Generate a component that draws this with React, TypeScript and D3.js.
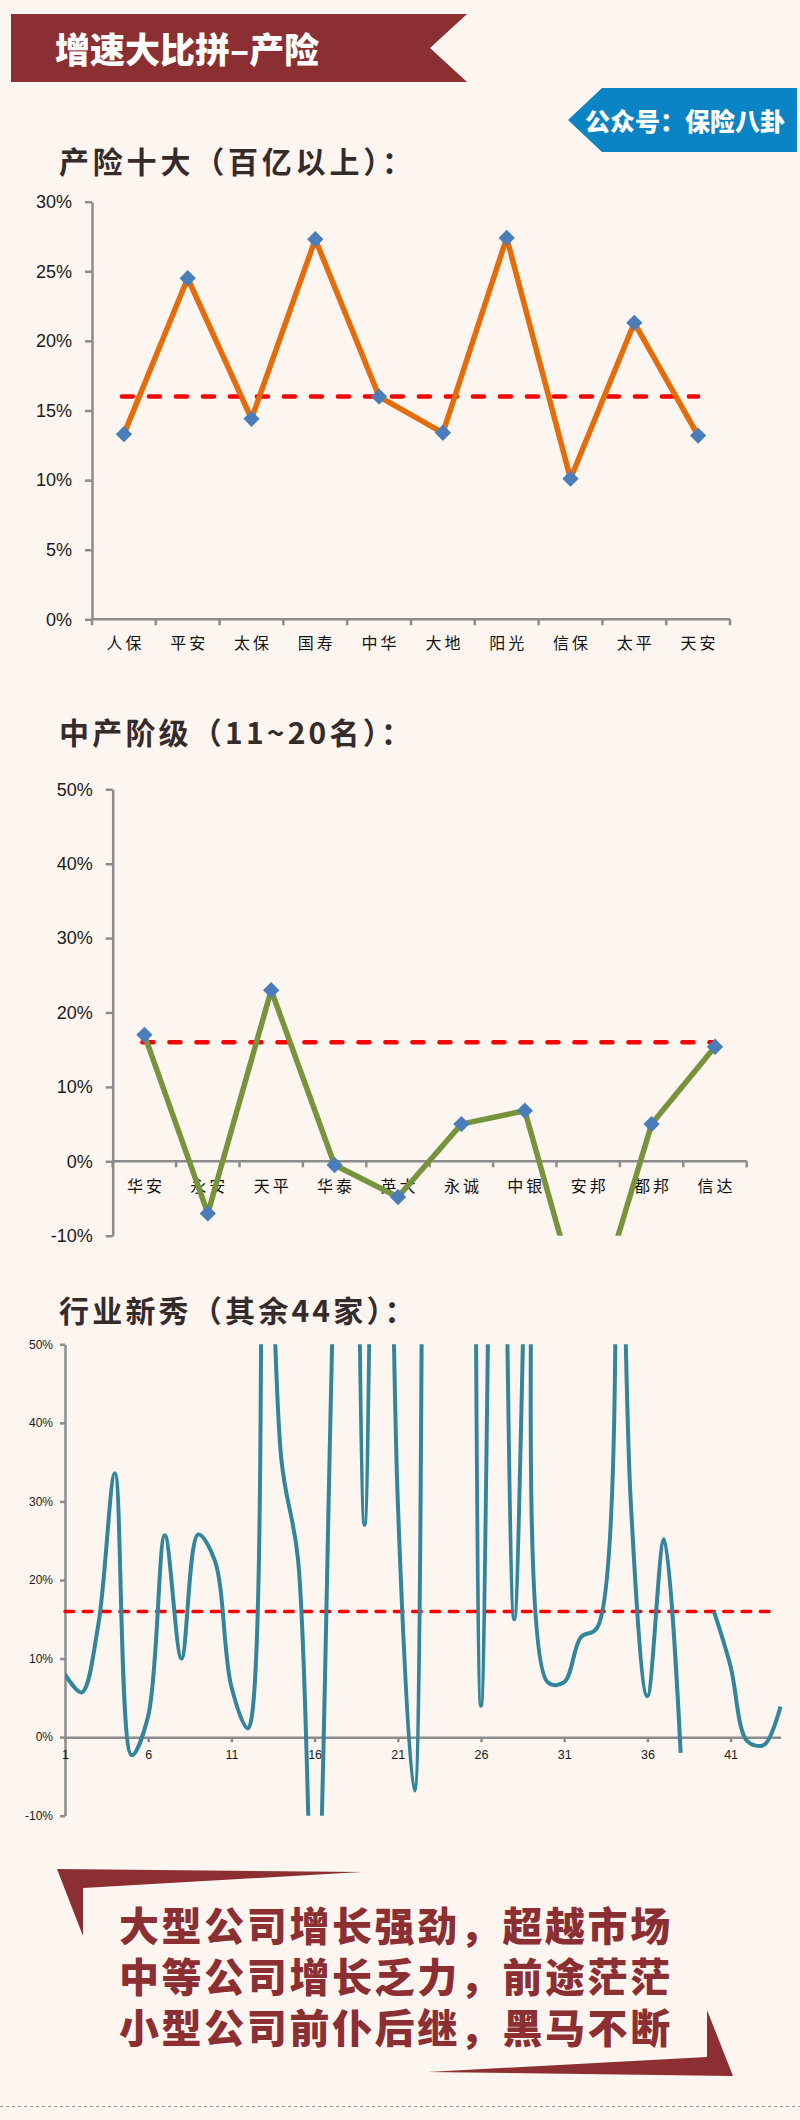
"use client";
import React, { useEffect, useRef } from "react";
import * as d3 from "d3";

const BG = "#fdf5ef";
const MAROON = "#8b2f32";
const AXIS = "#8c8c8c";
const TICK_FONT = "'Liberation Sans', Arial, sans-serif";
const CJK = "'Noto Sans CJK SC', sans-serif";

// 产险十大（百亿以上）
const bigNames = ["人保", "平安", "太保", "国寿", "中华", "大地", "阳光", "信保", "太平", "天安"];
const bigGrowth = [13.3, 24.5, 14.4, 27.3, 16.0, 13.4, 27.4, 10.1, 21.3, 13.2];
const bigTicks = [0, 5, 10, 15, 20, 25, 30];

// 中产阶级（11~20名）
const midNames = ["华安", "永安", "天平", "华泰", "英大", "永诚", "中银", "安邦", "都邦", "信达"];
const midGrowth = [17.0, -7.0, 23.0, -0.5, -4.8, 5.0, 6.8, -23.4, 5.0, 15.4];
const midTicks = [-10, 0, 10, 20, 30, 40, 50];

// 行业新秀（其余44家），第39家无数据
const smallGrowth: Array<number | null> = [
  8, 5.7, 14.3, 33.6, -2.3, 2.7, 25.7, 10, 25.8, 22.5,
  6.4, 1.1, 90, 35.4, 22.7, -30, 45, 150, 27, 150,
  30, -6.8, 200, 150, 200, 4, 120, 15, 80, 7,
  7, 12.7, 14, 120, 30, 5.2, 25.2, -2, null, 16,
  9, -0.5, -1, 3.9,
];
const smallTicks = [-10, 0, 10, 20, 30, 40, 50];
const smallLabels = [1, 6, 11, 16, 21, 26, 31, 36, 41];

const marketGrowth = 16;

const slogan = [
  "大型公司增长强劲，超越市场",
  "中等公司增长乏力，前途茫茫",
  "小型公司前仆后继，黑马不断",
];

type Sel = d3.Selection<SVGSVGElement, unknown, null, undefined>;

function styleAxis(a: any, fontSize: number) {
  a.select(".domain").attr("stroke", AXIS).attr("stroke-width", 2.5);
  a.selectAll(".tick line").attr("stroke", AXIS).attr("stroke-width", 2.5);
  a.selectAll("text")
    .attr("font-family", TICK_FONT)
    .attr("font-size", fontSize)
    .attr("fill", "#1a1a1a");
}

function drawCategory(
  svg: Sel,
  o: {
    id: string;
    names: string[];
    values: number[];
    domain: [number, number];
    ticks: number[];
    left: number;
    right: number;
    top: number;
    bottom: number;
    color: string;
    labelY: number;
  }
) {
  const x = d3.scaleBand().domain(o.names).range([o.left, o.right]);
  const y = d3.scaleLinear().domain(o.domain).range([o.bottom, o.top]);
  const cx = (n: string) => (x(n) as number) + x.bandwidth() / 2;
  const g = svg.append("g");

  g.append("clipPath")
    .attr("id", o.id)
    .append("rect")
    .attr("x", o.left - 20)
    .attr("y", o.top - 20)
    .attr("width", o.right - o.left + 40)
    .attr("height", o.bottom - o.top + 20);

  g.append("g")
    .attr("transform", `translate(${o.left},0)`)
    .call(
      d3
        .axisLeft(y)
        .tickValues(o.ticks)
        .tickFormat((d) => `${d}%`)
        .tickSize(7)
        .tickSizeOuter(0)
        .tickPadding(13)
    )
    .call((a) => styleAxis(a, 18));

  // category axis at 0%
  const y0 = y(0);
  g.append("line")
    .attr("x1", o.left)
    .attr("x2", o.right)
    .attr("y1", y0)
    .attr("y2", y0)
    .attr("stroke", AXIS)
    .attr("stroke-width", 2.5);
  g.selectAll(".bound")
    .data(d3.range(o.names.length + 1))
    .join("line")
    .attr("x1", (i) => o.left + i * x.step())
    .attr("x2", (i) => o.left + i * x.step())
    .attr("y1", y0)
    .attr("y2", y0 + 6)
    .attr("stroke", AXIS)
    .attr("stroke-width", 2.5);

  g.selectAll(".cat")
    .data(o.names)
    .join("text")
    .attr("x", (d) => cx(d) + 1.5)
    .attr("y", o.labelY)
    .attr("dy", "0.35em")
    .attr("text-anchor", "middle")
    .attr("font-family", CJK)
    .attr("font-size", 16)
    .attr("letter-spacing", 3)
    .attr("fill", "#111")
    .text((d) => d);

  // market average
  g.append("line")
    .attr("x1", cx(o.names[0]) - 2)
    .attr("x2", cx(o.names[o.names.length - 1]))
    .attr("y1", y(marketGrowth))
    .attr("y2", y(marketGrowth))
    .attr("stroke", "#ff0000")
    .attr("stroke-width", 4.5)
    .attr("stroke-linecap", "round")
    .attr("stroke-dasharray", "11 16");

  const line = d3
    .line<number>()
    .x((_, i) => cx(o.names[i]))
    .y((d) => y(d));

  const plot = g.append("g").attr("clip-path", `url(#${o.id})`);
  plot
    .append("path")
    .attr("d", line(o.values))
    .attr("fill", "none")
    .attr("stroke", o.color)
    .attr("stroke-width", 5.5)
    .attr("stroke-linejoin", "round");

  plot
    .selectAll(".mk")
    .data(o.values)
    .join("path")
    .attr("transform", (d, i) => `translate(${cx(o.names[i])},${y(d)})`)
    .attr("d", d3.symbol(d3.symbolDiamond2, 170)())
    .attr("fill", "#4a7ebb");
}

function drawSmall(svg: Sel) {
  const left = 65;
  const right = 780.5;
  const top = 1344.3;
  const bottom = 1815.7;
  const x = d3.scaleLinear().domain([1, 44]).range([left, right]);
  const y = d3.scaleLinear().domain([-10, 50]).range([bottom, top]);
  const g = svg.append("g");

  g.append("clipPath")
    .attr("id", "clip-small")
    .append("rect")
    .attr("x", left)
    .attr("y", top)
    .attr("width", right - left + 10)
    .attr("height", bottom - top);

  g.append("g")
    .attr("transform", `translate(${left},0)`)
    .call(
      d3
        .axisLeft(y)
        .tickValues(smallTicks)
        .tickFormat((d) => `${d}%`)
        .tickSize(5)
        .tickSizeOuter(0)
        .tickPadding(7)
    )
    .call((a) => styleAxis(a, 12));

  g.append("g")
    .attr("transform", `translate(0,${y(0)})`)
    .call(
      d3
        .axisBottom(x)
        .tickValues(smallLabels)
        .tickFormat((d) => `${d}`)
        .tickSize(5)
        .tickSizeOuter(0)
        .tickPadding(8)
    )
    .call((a) => styleAxis(a, 12.5));

  g.append("line")
    .attr("x1", left)
    .attr("x2", right - 4)
    .attr("y1", y(marketGrowth))
    .attr("y2", y(marketGrowth))
    .attr("stroke", "#ff0000")
    .attr("stroke-width", 3.6)
    .attr("stroke-linecap", "round")
    .attr("stroke-dasharray", "8.5 9.8");

  const line = d3
    .line<number | null>()
    .defined((d) => d != null)
    .x((_, i) => x(i + 1))
    .y((d) => y(d as number))
    .curve(d3.curveCatmullRom.alpha(0.5));

  g.append("g")
    .attr("clip-path", "url(#clip-small)")
    .append("path")
    .attr("d", line(smallGrowth))
    .attr("fill", "none")
    .attr("stroke", "#31859c")
    .attr("stroke-width", 4);
}

export default function App() {
  const ref = useRef<SVGSVGElement | null>(null);

  useEffect(() => {
    if (!ref.current) return;
    document.body.style.margin = "0";
    document.body.style.background = BG;
    const svg = d3.select(ref.current);
    svg.selectAll("*").remove();

    svg.append("rect").attr("width", 800).attr("height", 2120).attr("fill", BG);

    // header ribbon
    svg
      .append("path")
      .attr("d", "M11,14 L467,14 L430,48 L467,82 L11,82 Z")
      .attr("fill", MAROON);
    svg
      .append("text")
      .attr("x", 55)
      .attr("y", 63)
      .attr("font-family", CJK)
      .attr("font-weight", 900)
      .attr("font-size", 35)
      .attr("fill", "#fff")
      .text("增速大比拼–产险");

    // account tag
    svg
      .append("path")
      .attr("d", "M568,120 L602,88 L797,88 L797,152 L602,152 Z")
      .attr("fill", "#0a84c4");
    svg
      .append("text")
      .attr("x", 585)
      .attr("y", 131)
      .attr("font-family", CJK)
      .attr("font-weight", 900)
      .attr("font-size", 25)
      .attr("fill", "#fff")
      .text("公众号：保险八卦");

    const titles: Array<[string, number, number]> = [
      ["产险十大（百亿以上）：", 173, 3.8],
      ["中产阶级（11~20名）：", 744, 3.2],
      ["行业新秀（其余44家）：", 1322, 3.2],
    ];
    svg
      .append("g")
      .selectAll("text")
      .data(titles)
      .join("text")
      .attr("x", 59)
      .attr("y", (d) => d[1])
      .attr("letter-spacing", (d) => d[2])
      .attr("font-family", CJK)
      .attr("font-weight", 700)
      .attr("font-size", 30)
      .attr("fill", "#352b2b")
      .text((d) => d[0]);

    drawCategory(svg, {
      id: "clip-big",
      names: bigNames,
      values: bigGrowth,
      domain: [0, 30],
      ticks: bigTicks,
      left: 92,
      right: 730,
      top: 201.7,
      bottom: 619.3,
      color: "#e46c0a",
      labelY: 643,
    });

    drawCategory(svg, {
      id: "clip-mid",
      names: midNames,
      values: midGrowth,
      domain: [-10, 50],
      ticks: midTicks,
      left: 112.7,
      right: 746.7,
      top: 789.3,
      bottom: 1235.7,
      color: "#77933c",
      labelY: 1186.4,
    });

    drawSmall(svg);

    // closing slogan with brackets
    svg
      .append("path")
      .attr("d", "M57,1869 L362,1872 L83,1888 L83,1936 Z")
      .attr("fill", MAROON);
    svg
      .append("path")
      .attr("d", "M707,2010 L733,2076 L428,2072 L707,2057 Z")
      .attr("fill", MAROON);
    // DejaVu first keeps the line box compact; CJK glyphs fall to Noto
    svg
      .append("g")
      .selectAll("text")
      .data(slogan)
      .join("text")
      .attr("lang", "zh-CN")
      .attr("x", 119)
      .attr("y", (_, i) => 1941 + i * 51)
      .attr("font-family", "'DejaVu Sans', 'Noto Sans CJK SC', sans-serif")
      .attr("font-weight", 900)
      .attr("font-size", 40)
      .attr("letter-spacing", 2.6)
      .attr("fill", MAROON)
      .text((d) => d);

    svg
      .append("line")
      .attr("x1", 0)
      .attr("x2", 800)
      .attr("y1", 2106.5)
      .attr("y2", 2106.5)
      .attr("stroke", "#9a9a9a")
      .attr("stroke-width", 1)
      .attr("stroke-dasharray", "3 3");
  }, []);

  return <svg ref={ref} width={800} height={2120} style={{ display: "block" }} />;
}
